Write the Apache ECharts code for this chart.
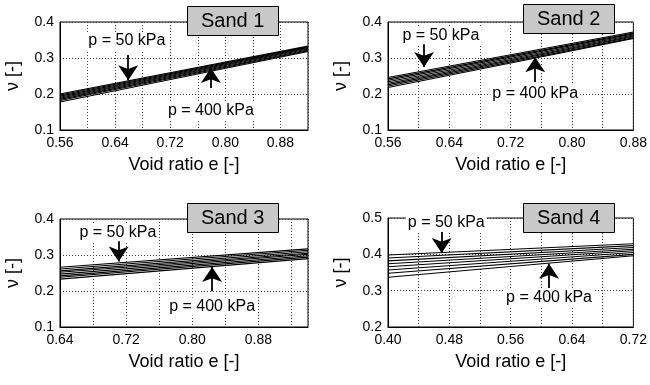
<!DOCTYPE html>
<html>
<head>
<meta charset="utf-8">
<script src="https://cdn.jsdelivr.net/npm/echarts@6/dist/echarts.min.js"></script>
<style>
  html, body { margin: 0; padding: 0; background: #fff; }
  #chart { width: 650px; height: 385px; }
</style>
</head>
<body>
<div id="chart"></div>
<script>
// Confining pressures of the curve family (top curve = 50 kPa, bottom = 400 kPa)
const pressures = [50, 100, 150, 200, 250, 300, 350, 400];

// Void ratio at the two ends of each curve, and Poisson's ratio there (one row per pressure)
const sand1VoidRatio = [0.56, 0.92];
const sand1Poisson = [
  [0.200, 0.333], [0.197, 0.331], [0.194, 0.329], [0.191, 0.327],
  [0.188, 0.325], [0.185, 0.322], [0.182, 0.320], [0.178, 0.318]
];

const sand2VoidRatio = [0.56, 0.88];
const sand2Poisson = [
  [0.246, 0.372], [0.242, 0.369], [0.238, 0.367], [0.234, 0.364],
  [0.230, 0.361], [0.226, 0.359], [0.222, 0.356], [0.218, 0.354]
];

const sand3VoidRatio = [0.64, 0.94];
const sand3Poisson = [
  [0.266, 0.317], [0.261, 0.313], [0.256, 0.309], [0.252, 0.305],
  [0.247, 0.302], [0.242, 0.298], [0.238, 0.294], [0.233, 0.290]
];

const sand4VoidRatio = [0.40, 0.72];
const sand4Poisson = [
  [0.398, 0.429], [0.390, 0.424], [0.382, 0.419], [0.374, 0.414],
  [0.366, 0.410], [0.357, 0.405], [0.348, 0.400], [0.337, 0.396]
];

// Axis ranges
const xRanges = [[0.56, 0.92], [0.56, 0.88], [0.64, 0.94], [0.40, 0.72]];
const yRanges = [[0.1, 0.4], [0.1, 0.4], [0.1, 0.4], [0.2, 0.5]];
const xLabelStep = 0.08;
const xGridStep = 0.04;
const yStep = 0.1;

// Annotation anchors in data units: [text x, text y, arrow x, arrow tail y, arrow tip y]
const lowPressureNote = [
  [0.657, 0.347, 0.659, 0.308, 0.238],
  [0.629, 0.363, 0.607, 0.341, 0.275],
  [0.710, 0.363, 0.711, 0.342, 0.282],
  [0.476, 0.486, 0.470, 0.463, 0.404]
];
const highPressureNote = [
  [0.779, 0.155, 0.779, 0.217, 0.272],
  [0.752, 0.202, 0.752, 0.233, 0.302],
  [0.824, 0.157, 0.824, 0.199, 0.267],
  [0.610, 0.280, 0.610, 0.307, 0.374]
];

const panelTitles = ['Sand 1', 'Sand 2', 'Sand 3', 'Sand 4'];
const voidRatios = [sand1VoidRatio, sand2VoidRatio, sand3VoidRatio, sand4VoidRatio];
const poissons = [sand1Poisson, sand2Poisson, sand3Poisson, sand4Poisson];

// Layout of the 2x2 panels (pixels)
const gridBoxes = [
  { left: 60, top: 22, width: 248, height: 108 },
  { left: 388, top: 22, width: 249, height: 108 },
  { left: 60, top: 219, width: 248, height: 108 },
  { left: 388, top: 218, width: 249, height: 109 }
];
const titleBoxes = [
  { left: 187, top: 6 },
  { left: 523, top: 4 },
  { left: 187, top: 203 },
  { left: 523, top: 203 }
];

const FONT = '"Liberation Sans", Arial, Helvetica, sans-serif';
const gridLineStyle = { color: '#444', width: 1, type: [1, 2] };

const grids = [], xAxes = [], yAxes = [], titles = [], series = [];

for (let i = 0; i < 4; i++) {
  const [xmin, xmax] = xRanges[i];
  const [ymin, ymax] = yRanges[i];

  grids.push(Object.assign({
    show: true, borderColor: '#000', borderWidth: 1, backgroundColor: 'transparent'
  }, gridBoxes[i]));

  xAxes.push({
    type: 'value', gridIndex: i, min: xmin, max: xmax, interval: xGridStep,
    name: 'Void ratio e [-]', nameLocation: 'middle', nameGap: 26,
    nameTextStyle: { fontSize: 18, color: '#000', fontFamily: FONT },
    axisLine: { show: true, lineStyle: { color: '#000', width: 1 } },
    axisTick: { show: false },
    axisLabel: {
      fontSize: 14, color: '#000', fontFamily: FONT, margin: 6,
      showMaxLabel: true,
      formatter: function (v) {
        const k = (v - xmin) / xLabelStep;
        return Math.abs(k - Math.round(k)) < 1e-6 ? v.toFixed(2) : '';
      }
    },
    splitLine: { show: true, lineStyle: gridLineStyle }
  });

  yAxes.push({
    type: 'value', gridIndex: i, min: ymin, max: ymax, interval: yStep,
    name: 'ν [-]', nameLocation: 'middle', nameGap: 38,
    nameTextStyle: { fontSize: 18, color: '#000', fontFamily: FONT },
    axisLine: { show: true, lineStyle: { color: '#000', width: 1 } },
    axisTick: { show: false },
    axisLabel: {
      fontSize: 14, color: '#000', fontFamily: FONT, margin: 6,
      formatter: function (v) { return v.toFixed(1); }
    },
    splitLine: { show: true, lineStyle: gridLineStyle }
  });

  titles.push(Object.assign({
    text: panelTitles[i],
    backgroundColor: '#c8c8c8', borderColor: '#000', borderWidth: 1,
    padding: [5, 14],
    textStyle: { fontSize: 20, fontWeight: 'normal', color: '#000', fontFamily: FONT }
  }, titleBoxes[i]));

  const e = voidRatios[i];
  poissons[i].forEach(function (row, j) {
    const s = {
      type: 'line', name: panelTitles[i] + ' ' + pressures[j] + ' kPa',
      xAxisIndex: i, yAxisIndex: i,
      data: [[e[0], row[0]], [e[1], row[1]]],
      showSymbol: false, symbol: 'none', silent: true,
      lineStyle: { color: '#000', width: 1.1 },
      z: 3
    };
    if (j === 0) {
      const lo = lowPressureNote[i], hi = highPressureNote[i];
      s.markLine = {
        silent: true, animation: false,
        symbol: ['none', 'arrow'], symbolSize: 15,
        lineStyle: { color: '#000', width: 1.8, type: 'solid' },
        label: { show: false },
        data: [
          [{ coord: [lo[2], lo[3]] }, { coord: [lo[2], lo[4]] }],
          [{ coord: [hi[2], hi[3]] }, { coord: [hi[2], hi[4]] }]
        ]
      };
      s.markPoint = {
        silent: true, animation: false,
        symbol: 'rect', symbolSize: 0,
        label: {
          show: true, position: 'inside', color: '#000', fontSize: 16,
          fontFamily: FONT, backgroundColor: '#fff', padding: [1, 2]
        },
        data: [
          { coord: [lo[0], lo[1]], label: { formatter: 'p = ' + pressures[0] + ' kPa' } },
          { coord: [hi[0], hi[1]], label: { formatter: 'p = ' + pressures[pressures.length - 1] + ' kPa' } }
        ]
      };
    }
    series.push(s);
  });
}

const chart = echarts.init(document.getElementById('chart'), null, { renderer: 'canvas' });
chart.setOption({
  animation: false,
  backgroundColor: '#fff',
  textStyle: { fontFamily: FONT },
  title: titles,
  grid: grids,
  xAxis: xAxes,
  yAxis: yAxes,
  series: series
});
</script>
</body>
</html>
